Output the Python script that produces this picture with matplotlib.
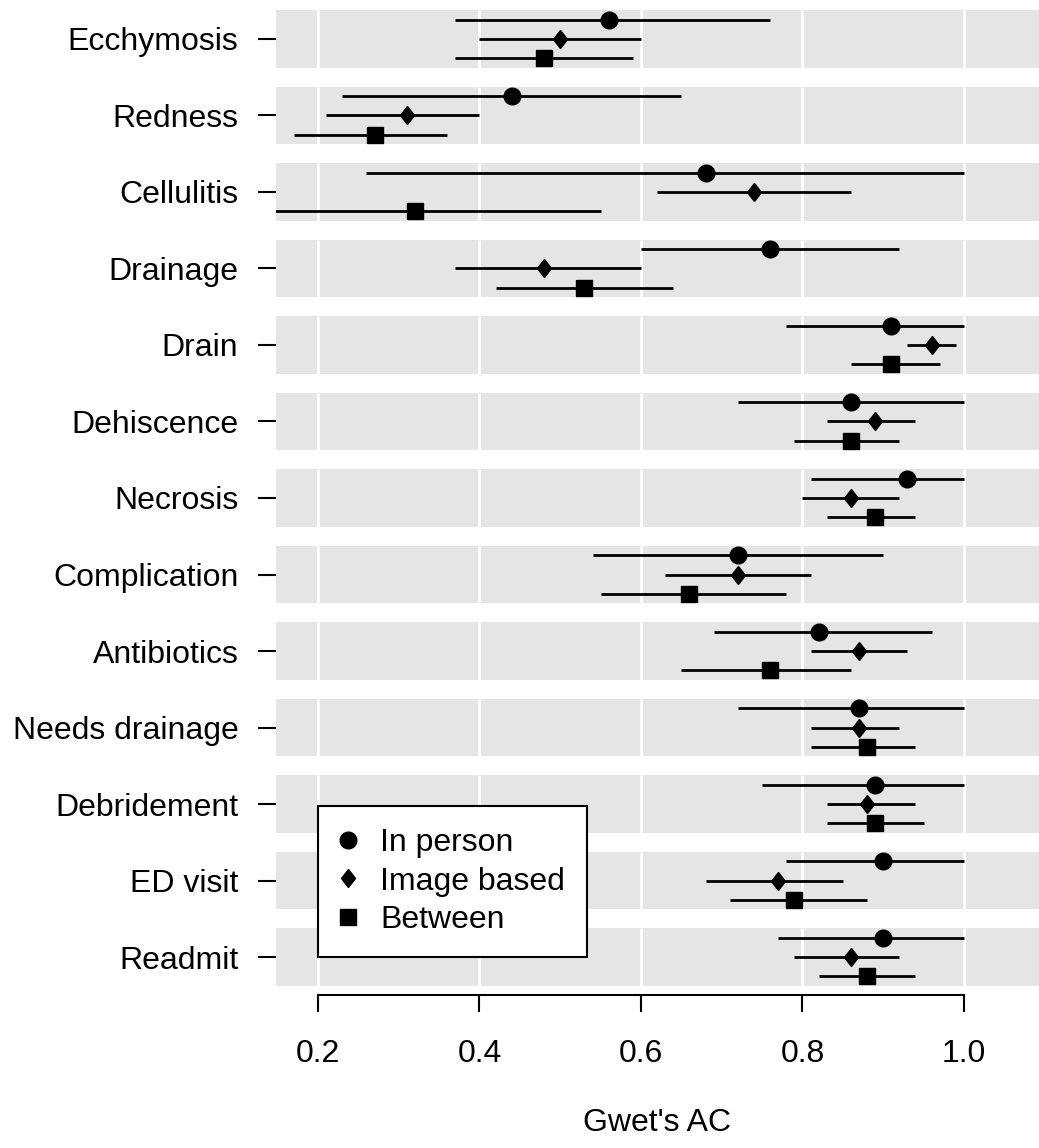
import numpy as np
import matplotlib
matplotlib.use("Agg")
import matplotlib.pyplot as plt
from matplotlib.markers import MarkerStyle
from matplotlib.transforms import Affine2D

matplotlib.rcParams["font.family"] = ["Liberation Sans", "DejaVu Sans"]

outcomes = ["Ecchymosis", "Redness", "Cellulitis", "Drainage", "Drain", "Dehiscence",
            "Necrosis", "Complication", "Antibiotics", "Needs drainage", "Debridement",
            "ED visit", "Readmit"]

# in person
inp_est = [0.56, 0.44, 0.68, 0.76, 0.91, 0.86, 0.93, 0.72, 0.82, 0.87, 0.89, 0.90, 0.90]
inp_lo = [0.37, 0.23, 0.26, 0.60, 0.78, 0.72, 0.81, 0.54, 0.69, 0.72, 0.75, 0.78, 0.77]
inp_hi = [0.76, 0.65, 1.00, 0.92, 1.00, 1.00, 1.00, 0.90, 0.96, 1.00, 1.00, 1.00, 1.00]
# image based
img_est = [0.50, 0.31, 0.74, 0.48, 0.96, 0.89, 0.86, 0.72, 0.87, 0.87, 0.88, 0.77, 0.86]
img_lo = [0.40, 0.21, 0.62, 0.37, 0.93, 0.83, 0.80, 0.63, 0.81, 0.81, 0.83, 0.68, 0.79]
img_hi = [0.60, 0.40, 0.86, 0.60, 0.99, 0.94, 0.92, 0.81, 0.93, 0.92, 0.94, 0.85, 0.92]
# between
btw_est = [0.48, 0.27, 0.32, 0.53, 0.91, 0.86, 0.89, 0.66, 0.76, 0.88, 0.89, 0.79, 0.88]
btw_lo = [0.37, 0.17, 0.10, 0.42, 0.86, 0.79, 0.83, 0.55, 0.65, 0.81, 0.83, 0.71, 0.82]
btw_hi = [0.59, 0.36, 0.55, 0.64, 0.97, 0.92, 0.94, 0.78, 0.86, 0.94, 0.95, 0.88, 0.94]

series = [("In person", inp_est, inp_lo, inp_hi),
          ("Image based", img_est, img_lo, img_hi),
          ("Between", btw_est, btw_lo, btw_hi)]

W, H = 1039, 1148
fs = 23
fig = plt.figure(figsize=(W / 100, H / 100), dpi=100)
ax = fig.add_axes([276 / W, 1 - 986 / H, (W - 276) / W, 976 / H])

n = len(outcomes)
half = 0.379
offset = 0.25
diamond = MarkerStyle("D", transform=Affine2D().scale(0.72, 1.0))
markers = [dict(marker="o", ms=12), dict(marker=diamond, ms=9.3), dict(marker="s", ms=11)]

for i in range(n):
    ax.axhspan(i - half, i + half, color="#e5e5e5", lw=0, zorder=0)
    ax.vlines([0.2, 0.4, 0.6, 0.8, 1.0], i - half, i + half, color="white", lw=2, zorder=1)

handles = []
for k, (name, est, lo, hi) in enumerate(series):
    y = np.arange(n) + (k - 1) * offset
    ax.hlines(y, lo, hi, color="black", lw=2, zorder=2)
    h, = ax.plot(est, y, ls="none", color="black", zorder=3, label=name, **markers[k])
    handles.append(h)

ax.set_xlim(0.148, 1.093)
ax.set_ylim(n - 1 + half, -half)

ax.set_yticks(np.arange(n))
ax.set_yticklabels(outcomes)
ax.set_xticks([0.2, 0.4, 0.6, 0.8, 1.0])
ax.set_xticklabels(["0.2", "0.4", "0.6", "0.8", "1.0"])

for s in ["top", "right", "left"]:
    ax.spines[s].set_visible(False)
ax.spines["bottom"].set_bounds(0.2, 1.0)
ax.spines["bottom"].set_position(("outward", 6.5))
ax.spines["bottom"].set_linewidth(1.5)
ax.tick_params(axis="x", length=12, width=1.5, pad=20, labelsize=fs)
ax.tick_params(axis="y", length=13, width=1.5, pad=14, labelsize=fs)
ax.set_xlabel("Gwet's AC", fontsize=fs, labelpad=28)

leg = ax.legend(handles=handles, loc="lower left", bbox_to_anchor=(0.055, 0.0297),
                borderaxespad=0, fancybox=False, edgecolor="black", framealpha=1,
                fontsize=fs, handlelength=0.52, handletextpad=0.74, labelspacing=0.27,
                borderpad=0.68, markerscale=1.0)
leg.get_frame().set_linewidth(1.5)

fig.savefig("out.png", dpi=100)
